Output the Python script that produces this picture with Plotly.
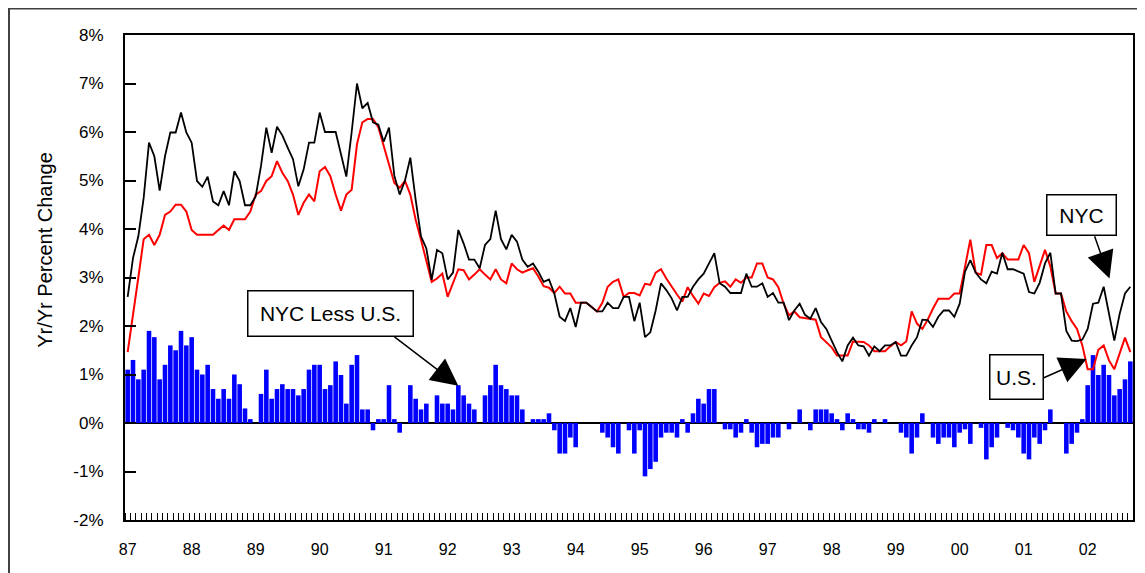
import plotly.graph_objects as go

# year labels, one per January
years = ["87", "88", "89", "90", "91", "92", "93", "94", "95", "96", "97", "98", "99", "00", "01", "02"]

# monthly Yr/Yr % change, Jan 1987 - Sep 2002
nyc = [2.60, 3.40, 3.85, 4.64, 5.78, 5.50, 4.79, 5.50, 5.99, 5.99, 6.40, 5.99,
       5.78, 4.99, 4.87, 5.08, 4.57, 4.49, 4.78, 4.49, 5.19, 4.99, 4.49, 4.49,
       4.67, 5.30, 6.09, 5.57, 6.11, 5.93, 5.68, 5.44, 4.88, 5.23, 5.78, 5.78,
       6.40, 6.00, 6.00, 6.00, 5.54, 5.08, 6.00, 7.00, 6.49, 6.60, 6.20, 6.15,
       5.80, 6.09, 5.10, 4.71, 5.00, 5.47, 4.60, 3.85, 3.60, 2.95, 3.57, 3.50,
       2.96, 3.10, 3.98, 3.70, 3.37, 3.37, 3.19, 3.67, 3.79, 4.38, 3.79, 3.58,
       3.88, 3.74, 3.37, 3.22, 3.29, 3.12, 2.91, 2.96, 2.67, 2.19, 2.10, 2.37,
       1.98, 2.48, 2.48, 2.39, 2.30, 2.30, 2.48, 2.37, 2.37, 2.60, 2.60, 2.10,
       2.48, 1.77, 1.87, 2.32, 2.88, 2.74, 2.57, 2.32, 2.60, 2.60, 2.81, 2.96,
       3.08, 3.29, 3.50, 2.88, 2.81, 2.68, 2.68, 2.68, 3.08, 2.81, 2.81, 2.88,
       2.60, 2.68, 2.48, 2.48, 2.12, 2.32, 2.46, 2.23, 2.15, 2.37, 2.08, 1.94,
       1.70, 1.46, 1.27, 1.60, 1.76, 1.60, 1.58, 1.39, 1.58, 1.48, 1.60, 1.60,
       1.67, 1.39, 1.39, 1.60, 1.77, 2.13, 2.12, 1.98, 2.19, 2.32, 2.32, 2.19,
       2.46, 3.12, 3.36, 3.10, 2.96, 2.88, 3.12, 3.08, 3.51, 3.17, 3.17, 3.12,
       3.08, 2.70, 2.67, 2.89, 3.29, 3.51, 2.67, 2.67, 1.90, 1.70, 1.69, 1.72,
       1.94, 2.46, 2.48, 2.81, 2.25, 1.70, 2.25, 2.67, 2.81]

us = [1.46, 2.20, 3.00, 3.79, 3.88, 3.67, 3.88, 4.29, 4.36, 4.50, 4.50, 4.36,
      3.98, 3.88, 3.88, 3.88, 3.88, 3.98, 4.07, 3.98, 4.20, 4.20, 4.20, 4.36,
      4.71, 4.78, 4.99, 5.09, 5.40, 5.16, 4.99, 4.71, 4.29, 4.54, 4.71, 4.57,
      5.19, 5.28, 5.09, 4.71, 4.38, 4.71, 4.81, 5.75, 6.20, 6.27, 6.27, 6.10,
      5.70, 5.30, 4.95, 4.85, 4.99, 4.71, 4.19, 3.78, 3.36, 2.91, 2.98, 3.08,
      2.60, 2.88, 3.17, 3.15, 2.96, 3.06, 3.17, 3.06, 2.96, 3.17, 2.96, 2.88,
      3.29, 3.17, 3.10, 3.15, 3.19, 3.02, 2.82, 2.79, 2.68, 2.81, 2.67, 2.67,
      2.48, 2.48, 2.48, 2.39, 2.30, 2.48, 2.81, 2.91, 2.96, 2.60, 2.68, 2.68,
      2.63, 2.87, 2.85, 3.10, 3.17, 2.98, 2.80, 2.65, 2.50, 2.80, 2.62, 2.46,
      2.67, 2.62, 2.80, 2.89, 2.92, 2.81, 2.96, 2.89, 3.00, 3.00, 3.29, 3.29,
      3.00, 2.96, 2.80, 2.46, 2.22, 2.30, 2.18, 2.16, 2.15, 2.13, 1.77, 1.67,
      1.56, 1.39, 1.39, 1.39, 1.68, 1.68, 1.67, 1.60, 1.48, 1.48, 1.48, 1.58,
      1.67, 1.60, 1.68, 2.30, 2.05, 1.94, 2.13, 2.36, 2.56, 2.56, 2.56, 2.67,
      2.67, 3.22, 3.78, 3.10, 3.06, 3.67, 3.67, 3.40, 3.50, 3.37, 3.37, 3.37,
      3.67, 3.50, 2.91, 3.22, 3.57, 3.23, 2.67, 2.67, 2.30, 2.10, 1.94, 1.60,
      1.11, 1.11, 1.51, 1.60, 1.29, 1.11, 1.42, 1.76, 1.46]

nyc_less_us = [1.10, 1.30, 0.90, 1.10, 1.90, 1.77, 0.90, 1.20, 1.60, 1.50, 1.90, 1.60,
               1.77, 1.10, 1.00, 1.20, 0.70, 0.50, 0.70, 0.50, 1.00, 0.80, 0.30, 0.08,
               0.00, 0.60, 1.10, 0.50, 0.70, 0.80, 0.70, 0.70, 0.57, 0.70, 1.10, 1.20,
               1.20, 0.70, 0.78, 1.27, 0.99, 0.40, 1.20, 1.40, 0.28, 0.28, -0.15, 0.08,
               0.08, 0.78, 0.08, -0.20, 0.00, 0.78, 0.50, 0.28, 0.40, 0.00, 0.57, 0.40,
               0.40, 0.28, 0.78, 0.57, 0.40, 0.28, 0.00, 0.57, 0.78, 1.20, 0.78, 0.70,
               0.57, 0.57, 0.28, 0.00, 0.08, 0.08, 0.08, 0.20, -0.15, -0.63, -0.63, -0.30,
               -0.50, 0.00, 0.00, 0.00, 0.00, -0.20, -0.30, -0.50, -0.63, 0.00, -0.15, -0.63,
               -0.15, -1.10, -0.95, -0.80, -0.30, -0.20, -0.20, -0.30, 0.08, -0.20, 0.20, 0.50,
               0.40, 0.70, 0.70, 0.00, -0.13, -0.13, -0.30, -0.20, 0.08, -0.20, -0.50, -0.43,
               -0.43, -0.30, -0.30, 0.00, -0.13, 0.00, 0.28, 0.00, -0.15, 0.28, 0.28, 0.28,
               0.20, 0.08, -0.15, 0.20, 0.08, -0.13, -0.13, -0.20, 0.08, 0.00, 0.08, 0.00,
               0.00, -0.20, -0.30, -0.63, -0.30, 0.20, 0.00, -0.30, -0.43, -0.30, -0.30, -0.50,
               -0.20, -0.13, -0.43, 0.00, -0.10, -0.75, -0.50, -0.30, 0.00, -0.10, -0.15, -0.30,
               -0.63, -0.75, -0.30, -0.43, -0.15, 0.28, 0.00, 0.00, -0.63, -0.43, -0.20, 0.08,
               0.78, 1.40, 0.99, 1.20, 0.99, 0.57, 0.70, 0.90, 1.27]

months = list(range(len(nyc)))
font = "Arial, Liberation Sans, sans-serif"

fig = go.Figure()
fig.add_trace(go.Bar(x=months, y=nyc_less_us, width=0.86,
                     marker=dict(color="#0000FF", line=dict(width=0)), name="NYC Less U.S."))
fig.add_trace(go.Scatter(x=months, y=us, mode="lines",
                         line=dict(color="#FF0000", width=2), name="U.S."))
fig.add_trace(go.Scatter(x=months, y=nyc, mode="lines",
                         line=dict(color="black", width=1.8), name="NYC"))

# the page adds an 8px body margin, so margins are pulled in by 8px
fig.update_layout(
    width=1145, height=573,
    margin=dict(l=117, r=20, t=27, b=61),
    paper_bgcolor="white", plot_bgcolor="white",
    showlegend=False, bargap=0.1,
    font=dict(family=font, color="black"),
)

fig.update_xaxes(
    range=[-0.5, len(nyc) - 0.5],
    tickmode="array", tickvals=[12 * k for k in range(len(years))], ticktext=years,
    ticks="", showgrid=False, zeroline=False,
    showline=True, linecolor="black", linewidth=2, mirror=True,
    tickfont=dict(size=16), ticklabelstandoff=14,
    minor=dict(tickmode="array", tickvals=[k - 0.5 for k in range(len(nyc) + 1)],
               ticks="inside", ticklen=7, tickwidth=1, tickcolor="black", showgrid=False),
)

fig.update_yaxes(
    range=[-2, 8],
    tickmode="array", tickvals=list(range(-2, 9)), ticktext=[f"{v}%" for v in range(-2, 9)],
    ticks="inside", ticklen=11, tickwidth=2, tickcolor="black",
    showgrid=False, zeroline=True, zerolinecolor="black", zerolinewidth=2,
    showline=True, linecolor="black", linewidth=2, mirror=True,
    tickfont=dict(size=17), ticklabelstandoff=16,
)

# y title
fig.add_annotation(text="Yr/Yr Percent Change", xref="paper", yref="paper",
                   x=-0.0794, y=0.557, xanchor="center", yanchor="middle",
                   textangle=-90, showarrow=False, font=dict(size=20))

# callout boxes
for label, bx, by, bw, bh in [("NYC Less U.S.", 38.1, 2.26, 164, 44),
                              ("NYC", 178.9, 4.29, 68, 39),
                              ("U.S.", 166.6, 0.94, 52, 43)]:
    fig.add_annotation(text=label, x=bx, y=by, xref="x", yref="y", showarrow=False,
                       width=bw, height=bh, borderpad=0, bgcolor="white",
                       bordercolor="black", borderwidth=1.5, font=dict(size=21))

# arrows pointing at the series
for tx, ty, sx, sy in [(62.0, 0.77, 49.75, 1.80),
                       (184.1, 2.98, 181.2, 3.88),
                       (179.8, 1.32, 171.5, 0.92)]:
    fig.add_annotation(text="", x=tx, y=ty, ax=sx, ay=sy, xref="x", yref="y",
                       axref="x", ayref="y", showarrow=True, arrowhead=2,
                       arrowsize=3.6, arrowwidth=1.5, arrowcolor="black")

# chart frame (top and left edges)
fig.add_shape(type="line", xref="paper", yref="paper", x0=-0.2, x1=1.1, y0=1.0546, y1=1.0546,
              line=dict(color="#404040", width=2))
fig.add_shape(type="line", xref="paper", yref="paper", x0=-0.1151, x1=-0.1151, y0=-0.2, y1=1.06,
              line=dict(color="#404040", width=2))

fig.write_html("out.html")
